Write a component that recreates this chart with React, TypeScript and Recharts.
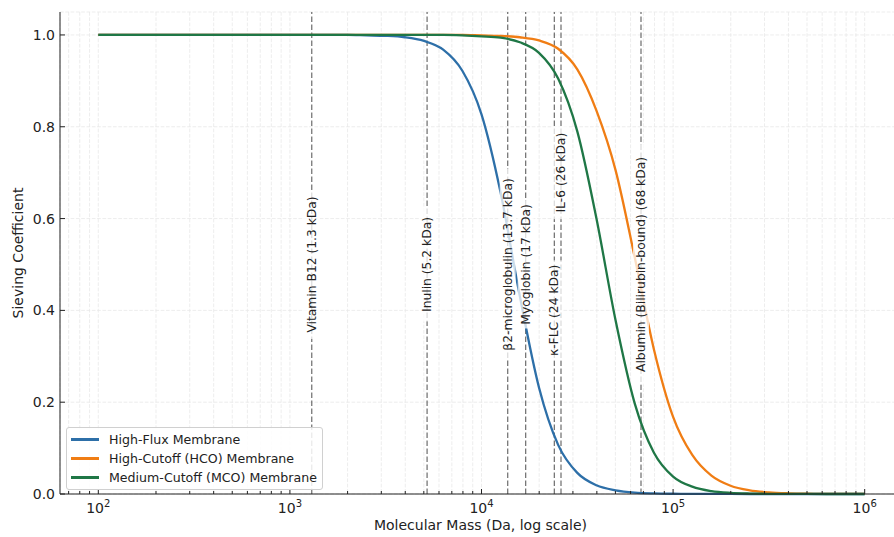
import React from "react";
import {
  LineChart,
  Line,
  XAxis,
  YAxis,
  CartesianGrid,
  ReferenceLine,
  ReferenceDot,
  Legend,
} from "recharts";

// molecular mass samples (Da), one every 0.1 decade
const mass = [
  100, 126, 158, 200, 251, 316, 398, 501, 631, 794,
  1000, 1259, 1585, 1995, 2512, 3162, 3981, 5012, 6310, 7943,
  10000, 12589, 15849, 19953, 25119, 31623, 39811, 50119, 63096, 79433,
  100000, 125893, 158489, 199526, 251189, 316228, 398107, 501187, 630957, 794328,
  1000000,
];

const highFlux = [
  1, 1, 1, 1, 1, 1, 1, 1, 1, 1,
  1, 1, 1, 1, 0.999, 0.998, 0.995, 0.987, 0.968, 0.922,
  0.827, 0.656, 0.431, 0.232, 0.107, 0.046, 0.019, 0.008, 0.003, 0.0012,
  0.0005, 0.0002, 0.0001, 0.0001, 0, 0, 0, 0, 0, 0,
  0,
];

const highCutoff = [
  1, 1, 1, 1, 1, 1, 1, 1, 1, 1,
  1, 1, 1, 1, 1, 1, 1, 1, 1, 1,
  0.999, 0.998, 0.995, 0.988, 0.97, 0.925, 0.835, 0.705, 0.515, 0.315,
  0.168, 0.085, 0.04, 0.018, 0.008, 0.0035, 0.0015, 0.0006, 0.0003, 0.0001,
  0.0001,
];

const mediumCutoff = [
  1, 1, 1, 1, 1, 1, 1, 1, 1, 1,
  1, 1, 1, 1, 1, 1, 1, 1, 1, 0.999,
  0.997, 0.994, 0.984, 0.961, 0.905, 0.79, 0.6, 0.378, 0.197, 0.09,
  0.038, 0.016, 0.0063, 0.0025, 0.001, 0.0004, 0.0002, 0.0001, 0, 0,
  0,
];

const seriesKeys = ["hf", "hco", "mco"];
const seriesNames = [
  "High-Flux Membrane",
  "High-Cutoff (HCO) Membrane",
  "Medium-Cutoff (MCO) Membrane",
];
const seriesColors = ["#2d6fa8", "#f07d14", "#1f7746"];

const markerMass = [1300, 5200, 13700, 17000, 24000, 26000, 68000];
const markerNames = [
  "Vitamin B12 (1.3 kDa)",
  "Inulin (5.2 kDa)",
  "β2-microglobulin (13.7 kDa)",
  "Myoglobin (17 kDa)",
  "κ-FLC (24 kDa)",
  "IL-6 (26 kDa)",
  "Albumin (Bilirubin-bound) (68 kDa)",
];
// height (in sieving coefficient units) where each marker label sits
const markerLabelY = [0.5, 0.5, 0.5, 0.5, 0.4, 0.7, 0.5];

const yTicks = [0, 0.2, 0.4, 0.6, 0.8, 1.0];
const xMajorTicks = [100, 1000, 10000, 100000, 1000000];
const xMinorTicks = [
  70, 80, 90,
  200, 300, 400, 500, 600, 700, 800, 900,
  2000, 3000, 4000, 5000, 6000, 7000, 8000, 9000,
  20000, 30000, 40000, 50000, 60000, 70000, 80000, 90000,
  200000, 300000, 400000, 500000, 600000, 700000, 800000, 900000,
];

const data = mass.map((m, i) => ({
  mass: m,
  hf: highFlux[i],
  hco: highCutoff[i],
  mco: mediumCutoff[i],
}));

const FONT = "DejaVu Sans";
const INK = "#222";

const XTick = ({ x, y, payload }: any) => {
  const v = payload.value;
  const major = xMajorTicks.includes(v);
  return (
    <g>
      <line x1={x} x2={x} y1={y} y2={y - (major ? 5 : 3)} stroke={INK} strokeWidth={1} />
      {major && (
        <text x={x} y={y + 19} textAnchor="middle" fontFamily={FONT} fontSize={14} fill={INK}>
          <tspan>10</tspan>
          <tspan dy={-6} fontSize={10}>{Math.round(Math.log10(v))}</tspan>
        </text>
      )}
    </g>
  );
};

const YTick = ({ x, y, payload }: any) => (
  <g>
    <line x1={x} x2={x + 5} y1={y} y2={y} stroke={INK} strokeWidth={1} />
    <text x={x - 5} y={y} textAnchor="end" dominantBaseline="central" fontFamily={FONT} fontSize={14} fill={INK}>
      {payload.value.toFixed(1)}
    </text>
  </g>
);

const markerLabel = (name: string) => (props: any) => {
  const { cx, cy } = props;
  const len = name.length * 7.0 + 2;
  return (
    <g transform={`translate(${cx},${cy}) rotate(-90)`}>
      <rect x={-len / 2} y={-8} width={len} height={16} fill="#fff" fillOpacity={0.75} />
      <text x={0} y={0} textAnchor="middle" dominantBaseline="central" fontFamily={FONT} fontSize={12.3} fill={INK}>
        {name}
      </text>
    </g>
  );
};

const renderLegend = () => (
  <div
    style={{
      border: "1px solid #d0d0d0",
      borderRadius: 3,
      background: "rgba(255,255,255,0.85)",
      padding: "2px 4px 2px 4px",
      fontFamily: FONT,
      fontSize: 12.6,
      color: INK,
      width: 247,
    }}
  >
    {seriesNames.map((n, i) => (
      <div key={n} style={{ display: "flex", alignItems: "center", height: 19 }}>
        <span style={{ display: "inline-block", width: 28, height: 2.2, background: seriesColors[i], marginRight: 10 }} />
        <span>{n}</span>
      </div>
    ))}
  </div>
);

export default function App() {
  return (
    <div style={{ position: "absolute", left: 0, top: 0, width: 894, height: 537, overflow: "hidden", background: "#fff" }}>
      <LineChart width={903} height={537} data={data} margin={{ top: 12, right: 0, bottom: 0, left: 0 }}>
        <CartesianGrid stroke="#e8e8e8" strokeDasharray="3.7 1.6" strokeWidth={0.8} />
        <XAxis
          dataKey="mass"
          type="number"
          scale="log"
          domain={[63.0957, 1584893]}
          allowDataOverflow
          ticks={[...xMinorTicks, ...xMajorTicks].sort((a, b) => a - b)}
          interval={0}
          tick={<XTick />}
          tickLine={false}
          tickSize={0}
          tickMargin={0}
          height={43}
          axisLine={{ stroke: INK, strokeWidth: 1 }}
          label={(p: any) => {
            const vb = p.viewBox;
            return (
              <text x={vb.x + vb.width / 2 - 1} y={vb.y + 31} textAnchor="middle" dominantBaseline="central" fontFamily={FONT} fontSize={14} fill={INK}>
                Molecular Mass (Da, log scale)
              </text>
            );
          }}
        />
        <YAxis
          type="number"
          domain={[0, 1.05]}
          ticks={yTicks}
          interval={0}
          tick={<YTick />}
          tickLine={false}
          tickSize={0}
          tickMargin={0}
          width={60}
          axisLine={{ stroke: INK, strokeWidth: 1 }}
          label={(p: any) => {
            const vb = p.viewBox;
            return (
              <text
                x={vb.x + 18}
                y={vb.y + vb.height / 2}
                textAnchor="middle"
                dominantBaseline="central"
                fontFamily={FONT}
                fontSize={14}
                fill={INK}
                transform={`rotate(-90, ${vb.x + 18}, ${vb.y + vb.height / 2})`}
              >
                Sieving Coefficient
              </text>
            );
          }}
        />
        {markerMass.map((m) => (
          <ReferenceLine key={`rl${m}`} x={m} stroke="#555" strokeOpacity={0.8} strokeWidth={1.3} strokeDasharray="5.5 2.5" />
        ))}
        {seriesKeys.map((k, i) => (
          <Line
            key={k}
            dataKey={k}
            name={seriesNames[i]}
            type="monotone"
            stroke={seriesColors[i]}
            strokeWidth={2.3}
            dot={false}
            activeDot={false}
            isAnimationActive={false}
          />
        ))}
        {markerMass.map((m, i) => (
          <ReferenceDot key={`rd${m}`} x={m} y={markerLabelY[i]} r={0} shape={markerLabel(markerNames[i])} />
        ))}
        <Legend
          layout="vertical"
          align="center"
          verticalAlign="middle"
          content={renderLegend}
          wrapperStyle={{ left: 66, top: 427, width: 257, height: 60 }}
        />
      </LineChart>
    </div>
  );
}
